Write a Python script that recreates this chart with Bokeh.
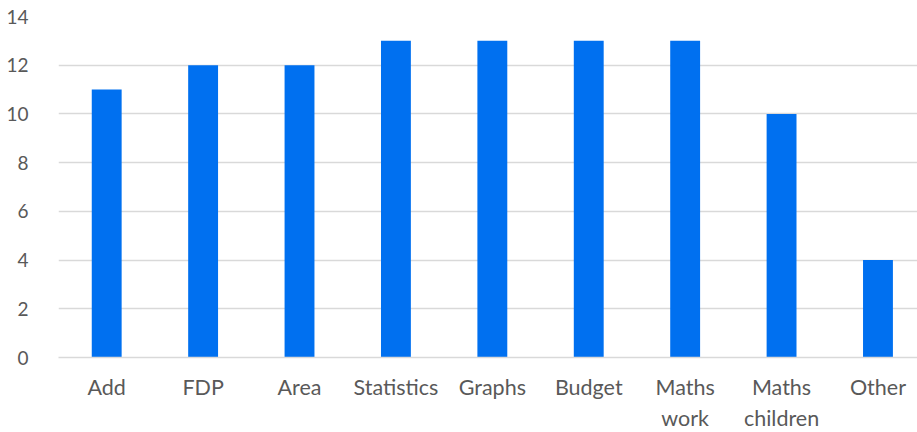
from bokeh.plotting import figure
from bokeh.models import ColumnDataSource, FixedTicker, Range1d
from bokeh.embed import file_html
from bokeh.resources import INLINE

categories = ["Add", "FDP", "Area", "Statistics", "Graphs", "Budget", "Maths\nwork", "Maths\nchildren", "Other"]
values = [11, 12, 12, 13, 13, 13, 13, 10, 4]
y_ticks = [0, 2, 4, 6, 8, 10, 12, 14]

xs = list(range(len(categories)))
src = ColumnDataSource(dict(x=xs, top=values))

p = figure(frame_width=859, frame_height=341, output_backend="svg", toolbar_location=None,
           x_range=Range1d(-0.5, 8.41), y_range=Range1d(0, 14),
           min_border_left=58, min_border_right=0, min_border_top=16, min_border_bottom=60)
p.outline_line_color = None
p.background_fill_color = "white"
p.border_fill_color = "white"

p.vbar(x="x", top="top", width=0.31, bottom=0, source=src, fill_color="#0070F0", line_color=None)

font = "Lato"
label_color = "#595959"

p.xaxis.ticker = FixedTicker(ticks=xs)
p.xaxis.major_label_overrides = {i: c for i, c in enumerate(categories)}
p.xaxis.major_tick_line_color = None
p.xaxis.minor_tick_line_color = None
p.xaxis.axis_line_color = "#d9d9d9"
p.xaxis.axis_line_width = 1.5
p.xaxis.major_label_text_font = font
p.xaxis.major_label_text_font_size = "21.5px"
p.xaxis.major_label_text_color = label_color
p.xaxis.major_label_standoff = 10

p.yaxis.ticker = FixedTicker(ticks=y_ticks)
p.yaxis.axis_line_color = None
p.yaxis.major_tick_line_color = None
p.yaxis.minor_tick_line_color = None
p.yaxis.major_label_text_font = font
p.yaxis.major_label_text_font_size = "19px"
p.yaxis.major_label_text_color = label_color
p.yaxis.major_label_standoff = 24

p.xgrid.grid_line_color = None
p.ygrid.grid_line_color = "#d9d9d9"
p.ygrid.grid_line_width = 1.5
p.ygrid.level = "underlay"

open("out.html", "w").write(file_html(p, INLINE))
